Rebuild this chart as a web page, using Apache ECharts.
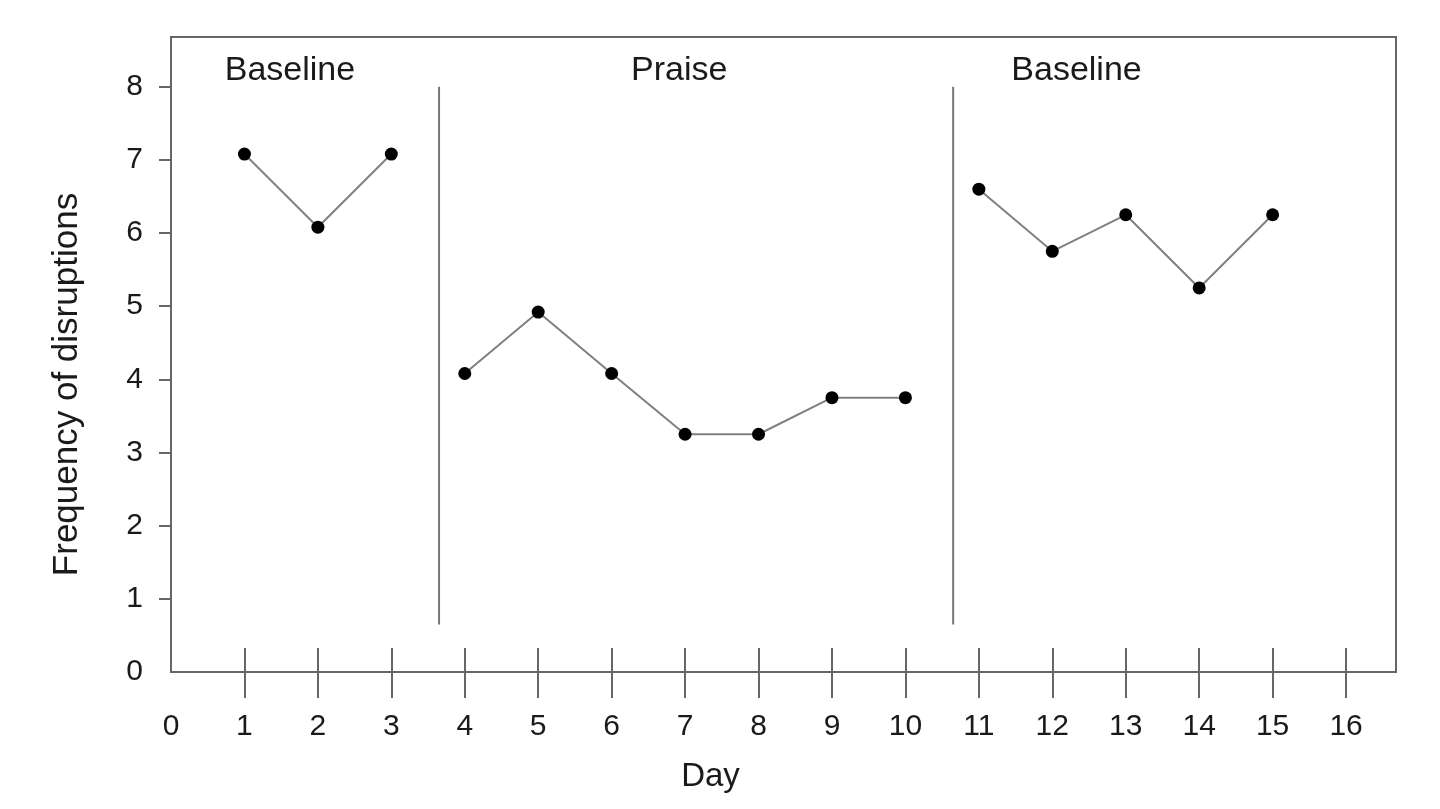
<!DOCTYPE html>
<html><head><meta charset="utf-8">
<script src="https://cdn.jsdelivr.net/npm/echarts@6/dist/echarts.min.js"></script>
<style>html,body{margin:0;padding:0;background:#fff}#c{width:1440px;height:809px}</style>
</head><body><div id="c"></div>
<script>
// Data
const xTickLabels = [0,1,2,3,4,5,6,7,8,9,10,11,12,13,14,15,16];
const xTickMarks = [1,2,3,4,5,6,7,8,9,10,11,12,13,14,15,16];
const yTickLabels = [0,1,2,3,4,5,6,7,8];
const yTickMarks = [1,2,3,4,5,6,7,8];
const baseline1Days = [1,2,3];
const baseline1Vals = [7.08,6.08,7.08];
const praiseDays = [4,5,6,7,8,9,10];
const praiseVals = [4.08,4.92,4.08,3.25,3.25,3.75,3.75];
const baseline2Days = [11,12,13,14,15];
const baseline2Vals = [6.6,5.75,6.25,5.25,6.25];
const phaseChangeX = [3.65, 10.65];
const phaseLineRange = [0.65, 8];
const phaseNames = ['Baseline','Praise','Baseline'];
const phaseLabelX = [1.62, 6.92, 12.33];
const phaseLabelY = 8.22;
const xTitle = 'Day';
const yTitle = 'Frequency of disruptions';

const FONT = 'Liberation Sans, Arial, sans-serif';
const AX = '#666';
const TXT = '#1a1a1a';
const zip = (a,b)=>a.map((v,i)=>[v,b[i]]);

const dataSeries = [[baseline1Days,baseline1Vals],[praiseDays,praiseVals],[baseline2Days,baseline2Vals]].map(([d,v])=>({
  type:'line', data: zip(d,v), symbol:'circle', symbolSize:13,
  itemStyle:{color:'#000'}, lineStyle:{color:'#808080', width:2}, z:5, animation:false
}));
const phaseSeries = phaseChangeX.map(x=>({
  type:'line', data:[[x,phaseLineRange[0]],[x,phaseLineRange[1]]], symbol:'none',
  lineStyle:{color:'#777', width:2}, animation:false
}));
const labelSeries = {
  type:'scatter', symbolSize:0, data: phaseLabelX.map((x,i)=>({value:[x,phaseLabelY], name:phaseNames[i]})),
  label:{show:true, position:'inside', formatter:p=>p.name, fontFamily:FONT, fontSize:34, color:TXT},
  itemStyle:{opacity:1}, animation:false
};

const baseX = {
  type:'value', min:0, max:16.68, position:'bottom',
  axisLine:{show:true, lineStyle:{color:AX, width:2}},
  splitLine:{show:false}
};
const option = {
  backgroundColor:'#fff',
  grid:{left:171, top:37, right:44, bottom:137, show:true, borderColor:AX, borderWidth:2},
  xAxis:[
    Object.assign({}, baseX, {
      name:xTitle, nameLocation:'middle', nameGap:88,
      nameTextStyle:{fontFamily:FONT, fontSize:33, color:TXT, padding:[0,146,0,0]},
      axisTick:{show:true, length:26, inside:false, customValues:xTickMarks, lineStyle:{color:AX, width:2}},
      axisLabel:{show:true, customValues:xTickLabels, margin:40, fontFamily:FONT, fontSize:30, color:TXT}
    }),
    Object.assign({}, baseX, {
      axisTick:{show:true, length:24, inside:true, customValues:xTickMarks, lineStyle:{color:AX, width:2}},
      axisLabel:{show:false}
    })
  ],
  yAxis:{
    type:'value', min:0, max:8.68,
    name:yTitle, nameLocation:'middle', nameGap:86, nameRotate:90,
    nameTextStyle:{fontFamily:FONT, fontSize:35, color:TXT, padding:[0,60,0,0]},
    axisLine:{show:true, lineStyle:{color:AX, width:2}},
    axisTick:{show:true, length:12, customValues:yTickMarks, lineStyle:{color:AX, width:2}},
    axisLabel:{customValues:yTickLabels, margin:28, fontFamily:FONT, fontSize:30, color:TXT},
    splitLine:{show:false}
  },
  series:[...phaseSeries, ...dataSeries, labelSeries]
};
echarts.init(document.getElementById('c')).setOption(option);
</script></body></html>
